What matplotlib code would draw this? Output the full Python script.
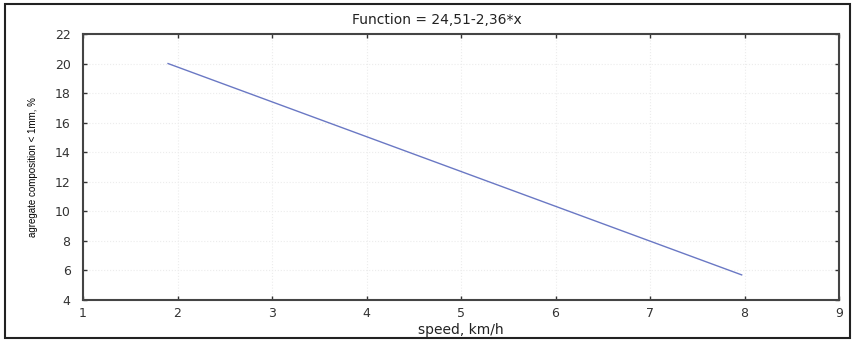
import matplotlib
matplotlib.use("Agg")
import matplotlib.pyplot as plt
from matplotlib.patches import Rectangle

# data
speed = [1.9, 7.97]
composition = [20.0, 5.7]
x_ticks = [1, 2, 3, 4, 5, 6, 7, 8, 9]
y_ticks = [4, 6, 8, 10, 12, 14, 16, 18, 20, 22]

plt.rcParams['font.family'] = ['DejaVu Sans']

fig = plt.figure(figsize=(8.55, 3.41), dpi=100)
ax = fig.add_axes([0.0971, 0.1202, 0.8842, 0.7801])

ax.plot(speed, composition, color='#6a78c4', lw=1.0)

ax.set_xlim(1, 9)
ax.set_ylim(4, 22)
ax.set_xticks(x_ticks)
ax.set_yticks(y_ticks)
ax.tick_params(direction='in', length=3, width=1, labelsize=9,
               top=True, right=True, colors='#333333')
ax.tick_params(axis='y', pad=9)
ax.tick_params(axis='x', pad=5)
ax.grid(True, color='#ececec', lw=0.8, ls=':')
for s in ax.spines.values():
    s.set_color('#444444')
    s.set_linewidth(1.5)

ax.set_title('Function = 24,51-2,36*x', fontsize=10, pad=7, x=0.468,
             color='#222222')
ax.set_xlabel('speed, km/h', fontsize=10, labelpad=2, color='#222222')
ax.set_ylabel('agregate composition < 1mm, %', fontsize=7,
              family=['Liberation Sans'], labelpad=12)

fig.patches.append(Rectangle((5 / 855, 3 / 341), 845 / 855, 334 / 341,
                             transform=fig.transFigure, fill=False,
                             edgecolor='#222222', lw=1.5))

fig.savefig('out.png', dpi=100)
